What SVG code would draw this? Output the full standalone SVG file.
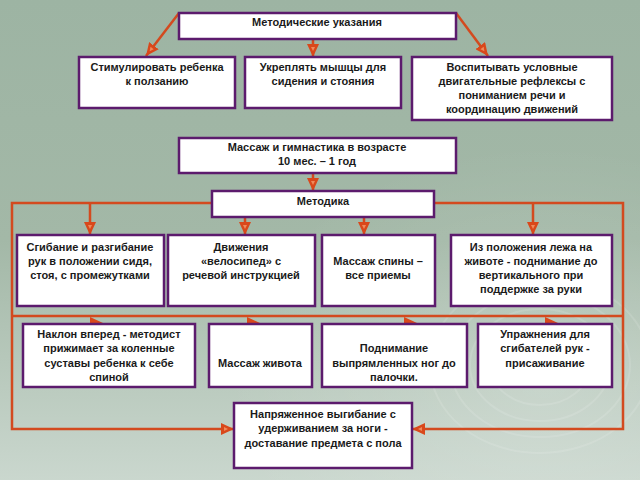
<svg xmlns="http://www.w3.org/2000/svg" width="640" height="480" viewBox="0 0 640 480">
<defs>
<linearGradient id="bg" x1="0" y1="0" x2="0" y2="1">
<stop offset="0" stop-color="#9db4a3"/>
<stop offset="0.5" stop-color="#a3b8a7"/>
<stop offset="1" stop-color="#cad7ce"/>
</linearGradient>
<radialGradient id="glow" cx="0.85" cy="0.8" r="0.5">
<stop offset="0" stop-color="#ffffff" stop-opacity="0.18"/>
<stop offset="1" stop-color="#ffffff" stop-opacity="0"/>
</radialGradient>
<marker id="ah" markerUnits="userSpaceOnUse" markerWidth="14" markerHeight="12" refX="13" refY="6" orient="auto">
<path d="M0,0 L13,6 L0,12 z" fill="#d9481b"/>
<path d="M3,4 L7,6 L3,8 z" fill="#ef8a5c"/>
</marker>
<path id="tri" d="M-13,-6 L0,0 L-13,6 z"/>
</defs>
<style>
.box{fill:#ffffff;stroke:#5c1b6d;stroke-width:2.5}
.t{font-family:"Liberation Sans",Arial,sans-serif;font-size:11px;font-weight:bold;fill:#1a1a1a;text-anchor:middle}
.c{fill:none;stroke:#d34a1f;stroke-width:2.5}
.h{fill:#d9481b}
.deco{fill:none;stroke:#ffffff;stroke-opacity:0.12;stroke-width:2}
</style>
<rect width="640" height="480" fill="url(#bg)"/>
<rect width="640" height="480" fill="url(#glow)"/>
<g>
<ellipse class="deco" cx="540" cy="365" rx="50" ry="40"/>
<ellipse class="deco" cx="540" cy="365" rx="70" ry="56"/>
<ellipse class="deco" cx="540" cy="365" rx="90" ry="72"/>
<ellipse class="deco" cx="540" cy="365" rx="110" ry="88"/>
</g>

<g id="connectors">
<path class="c" d="M179,13 L146,56" marker-end="url(#ah)"/>
<path class="c" d="M313,39 L313,57" marker-end="url(#ah)"/>
<path class="c" d="M456,13 L488,56" marker-end="url(#ah)"/>
<path class="c" d="M313,173 L313,191" marker-end="url(#ah)"/>
<path class="c" d="M212,203 H12 V429 H234" marker-end="url(#ah)"/>
<path class="c" d="M434,203 H623 V429 H412" marker-end="url(#ah)"/>
<path class="c" d="M90,203 V235" marker-end="url(#ah)"/>
<path class="c" d="M533,203 V235" marker-end="url(#ah)"/>
<path class="c" d="M245,217 V235" marker-end="url(#ah)"/>
<path class="c" d="M364,217 V235" marker-end="url(#ah)"/>
<path class="c" d="M12,316 H623"/>
<use href="#tri" class="h" x="103" y="323"/>
<use href="#tri" class="h" x="260" y="323"/>
<use href="#tri" class="h" x="417" y="323"/>
<use href="#tri" class="h" x="558" y="323"/>
</g>

<g id="n-metod-ukaz">
<rect class="box" x="179" y="13" width="277" height="26"/>
<text class="t" x="317" y="26">Методические указания</text>
</g>
<g id="n-stimul">
<rect class="box" x="79" y="57" width="156" height="51"/>
<text class="t" x="157" y="71">Стимулировать ребенка</text>
<text class="t" x="157" y="85">к ползанию</text>
</g>
<g id="n-ukreplyat">
<rect class="box" x="245" y="57" width="156" height="51"/>
<text class="t" x="323" y="71">Укреплять мышцы для</text>
<text class="t" x="323" y="85">сидения и стояния</text>
</g>
<g id="n-vospityvat">
<rect class="box" x="412" y="57" width="200" height="63"/>
<text class="t" x="512" y="71">Воспитывать условные</text>
<text class="t" x="512" y="85">двигательные рефлексы с</text>
<text class="t" x="512" y="99">пониманием речи и</text>
<text class="t" x="512" y="113">координацию движений</text>
</g>
<g id="n-massazh-gimn">
<rect class="box" x="179" y="138" width="277" height="35"/>
<text class="t" x="317" y="151">Массаж и гимнастика в возрасте</text>
<text class="t" x="317" y="165">10 мес. – 1 год</text>
</g>
<g id="n-metodika">
<rect class="box" x="212" y="191" width="222" height="26"/>
<text class="t" x="323" y="205">Методика</text>
</g>
<g id="n-sgibanie">
<rect class="box" x="17" y="235" width="147" height="71"/>
<text class="t" x="90" y="251">Сгибание и разгибание</text>
<text class="t" x="90" y="265">рук в положении сидя,</text>
<text class="t" x="90" y="279">стоя, с промежутками</text>
</g>
<g id="n-velosiped">
<rect class="box" x="168" y="235" width="147" height="71"/>
<text class="t" x="241" y="251">Движения</text>
<text class="t" x="241" y="265">«велосипед» с</text>
<text class="t" x="241" y="279">речевой инструкцией</text>
</g>
<g id="n-massazh-spiny">
<rect class="box" x="322" y="235" width="113" height="71"/>
<text class="t" x="378" y="265">Массаж спины –</text>
<text class="t" x="378" y="279">все приемы</text>
</g>
<g id="n-iz-polozheniya">
<rect class="box" x="451" y="235" width="161" height="71"/>
<text class="t" x="531" y="251">Из положения лежа на</text>
<text class="t" x="531" y="265">животе - поднимание до</text>
<text class="t" x="531" y="279">вертикального при</text>
<text class="t" x="531" y="293">поддержке за руки</text>
</g>
<g id="n-naklon">
<rect class="box" x="23" y="324" width="172" height="63"/>
<text class="t" x="109" y="338">Наклон вперед - методист</text>
<text class="t" x="109" y="352">прижимает за коленные</text>
<text class="t" x="109" y="367">суставы ребенка к себе</text>
<text class="t" x="109" y="381">спиной</text>
</g>
<g id="n-massazh-zhivota">
<rect class="box" x="209" y="324" width="103" height="63"/>
<text class="t" x="260" y="367">Массаж живота</text>
</g>
<g id="n-podnimanie">
<rect class="box" x="322" y="324" width="145" height="63"/>
<text class="t" x="394" y="352">Поднимание</text>
<text class="t" x="394" y="367">выпрямленных ног до</text>
<text class="t" x="394" y="381">палочки.</text>
</g>
<g id="n-uprazhneniya">
<rect class="box" x="478" y="324" width="134" height="63"/>
<text class="t" x="545" y="338">Упражнения для</text>
<text class="t" x="545" y="352">сгибателей рук -</text>
<text class="t" x="545" y="367">присаживание</text>
</g>
<g id="n-napryazhennoe">
<rect class="box" x="234" y="403" width="178" height="65"/>
<text class="t" x="323" y="418">Напряженное выгибание с</text>
<text class="t" x="323" y="432">удерживанием за ноги -</text>
<text class="t" x="323" y="447">доставание предмета с пола</text>
</g>
</svg>
